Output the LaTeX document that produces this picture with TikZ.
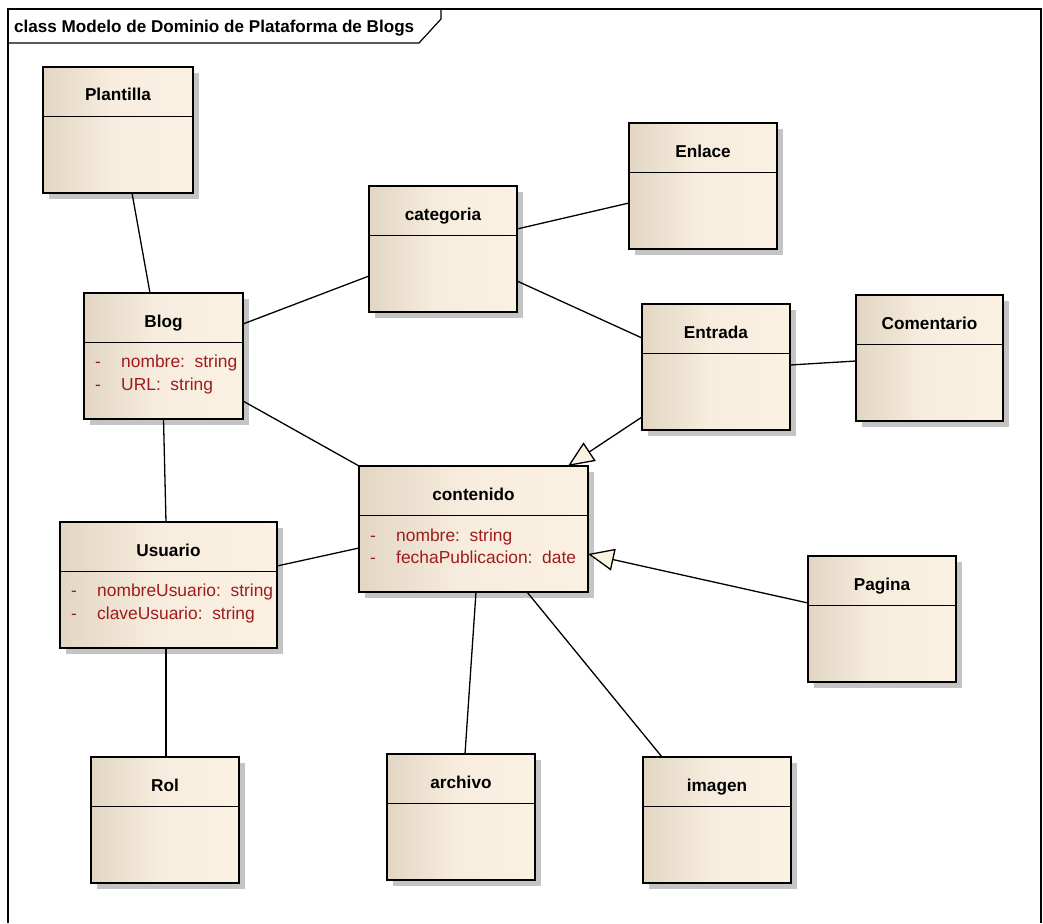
\documentclass[tikz,border=0pt]{standalone}
\usepackage{fontspec}
\setmainfont{Liberation Sans}
\usetikzlibrary{arrows.meta,shadows}

\definecolor{classdark}{HTML}{E2D6C3}
\definecolor{classlight}{HTML}{FBF1E3}
\definecolor{attrred}{HTML}{9E1B1E}
\definecolor{shadowgray}{HTML}{C4C4C4}

% horizontal fill of the class boxes: darker on the left, light on the right
\pgfdeclarehorizontalshading{classfill}{100bp}{%
  color(0bp)=(classdark); color(25bp)=(classdark);
  color(48bp)=(classlight!85!classdark); color(75bp)=(classlight);
  color(100bp)=(classlight)}

\tikzset{
  classbox/.style={rectangle, draw=black, line width=1.5pt, shading=classfill,
    inner sep=0pt, outer sep=0pt, minimum height=126pt,
    drop shadow={shadow xshift=6pt, shadow yshift=-6pt, fill=shadowgray, opacity=1}},
  classrule/.style={draw=black, line width=1.3pt},
  classtitle/.style={anchor=base, inner sep=0pt,
    font=\fontsize{17.2}{20}\selectfont\bfseries},
  attrtext/.style={anchor=base west, inner sep=0pt, text=attrred,
    font=\fontsize{17.4}{20}\selectfont},
  assoc/.style={draw=black, line width=1.3pt},
  generalization/.style={assoc,
    -{Triangle[length=26pt, width=22pt, fill=classlight, line width=1.3pt]}},
  frameline/.style={draw=black, line width=1.2pt},
}

% class box: name, left, top, width, title
\newcommand\umlclass[5]{%
  \node[classbox, minimum width=#4pt, anchor=north west] (#1) at (#2,#3) {};
  \draw[classrule] ([yshift=-49.5pt]#1.north west) -- ([yshift=-49.5pt]#1.north east);
  \node[classtitle] (#1-title) at ([yshift=-34pt]#1.north) {#5};
}
% attribute line: name, class, baseline offset below the top, text
\newcommand\umlattr[4]{%
  \node[attrtext] (#1-dash) at ([xshift=11pt,yshift=-#3pt]#2.north west) {-};
  \node[attrtext] (#1) at ([xshift=37pt,yshift=-#3pt]#2.north west) {#4};
}

\begin{document}
\begin{tikzpicture}[x=1pt, y=-1pt]
\useasboundingbox (0,0) rectangle (1043,923);

% diagram frame with its name tab
\draw[frameline] (8,923) -- (8,9) -- (1041,9) -- (1041,923);
\draw[frameline] (8,43) -- (419,43) -- (441,19) -- (441,9);
\node[anchor=base west, inner sep=0pt, font=\fontsize{17.1}{20}\selectfont\bfseries]
  (diagramtitle) at (14,33) {class Modelo de Dominio de Plataforma de Blogs};

% classes
\umlclass{plantilla}{43}{67}{150}{Plantilla}
\umlclass{blog}{84}{293}{159}{Blog}
\umlclass{categoria}{369}{186}{148}{categoria}
\umlclass{enlace}{629}{123}{148}{Enlace}
\umlclass{entrada}{642}{304}{148}{Entrada}
\umlclass{comentario}{856}{295}{147}{Comentario}
\umlclass{contenido}{359}{466}{229}{contenido}
\umlclass{usuario}{60}{522}{217}{Usuario}
\umlclass{pagina}{808}{556}{148}{Pagina}
\umlclass{rol}{91}{757}{148}{Rol}
\umlclass{archivo}{387}{754}{148}{archivo}
\umlclass{imagen}{643}{757}{148}{imagen}

% attributes
\umlattr{blog-nombre}{blog}{74}{nombre:\ \ string}
\umlattr{blog-url}{blog}{97}{URL:\ \ string}
\umlattr{contenido-nombre}{contenido}{75}{nombre:\ \ string}
\umlattr{contenido-fecha}{contenido}{97}{fechaPublicacion:\ \ date}
\umlattr{usuario-nombre}{usuario}{74}{nombreUsuario:\ \ string}
\umlattr{usuario-clave}{usuario}{97}{claveUsuario:\ \ string}

% associations
\draw[assoc] ([xshift=14pt]plantilla.south) -- ([xshift=-13.5pt]blog.north);
\draw[assoc] ([yshift=32pt]blog.east) -- ([yshift=-27pt]categoria.west);
\draw[assoc] ([yshift=-45pt]blog.east) -- (contenido.north west);
\draw[assoc] (blog.south) -- ([xshift=-2.5pt]usuario.north);
\draw[assoc] ([yshift=20pt]categoria.east) -- ([yshift=-17pt]enlace.west);
\draw[assoc] ([yshift=-32pt]categoria.east) -- ([yshift=29pt]entrada.west);
\draw[assoc] ([yshift=2pt]entrada.east) -- ([yshift=-3pt]comentario.west);
\draw[assoc] ([yshift=19pt]usuario.east) -- ([yshift=-19pt]contenido.west);
\draw[assoc] ([xshift=-2.5pt]usuario.south) -- ([xshift=1pt]rol.north);
\draw[assoc] ([xshift=2.5pt]contenido.south) -- ([xshift=4pt]archivo.north);
\draw[assoc] ([xshift=53.5pt]contenido.south) -- ([xshift=-55pt]imagen.north);

% generalizations
\draw[generalization] ([yshift=-50pt]entrada.west) -- ([xshift=94.5pt]contenido.north);
\draw[generalization] ([yshift=16pt]pagina.west) -- ([yshift=-25pt]contenido.east);
\end{tikzpicture}
\end{document}
